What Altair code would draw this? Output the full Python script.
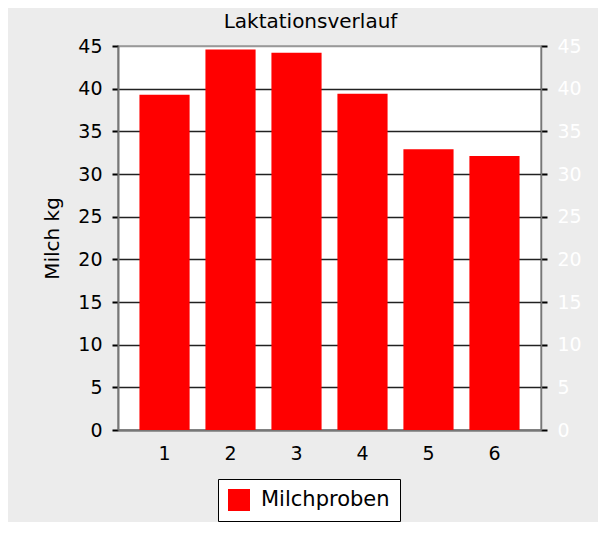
import altair as alt
import pandas as pd

categories = ["1", "2", "3", "4", "5", "6"]
values = [39.3, 44.6, 44.2, 39.4, 32.9, 32.1]
series_name = "Milchproben"
y_ticks = [0, 5, 10, 15, 20, 25, 30, 35, 40, 45]

df = pd.DataFrame({
    "Monat": categories,
    "Milch": values,
    "Serie": [series_name] * len(categories),
})

FONT = "DejaVu Sans"

x_enc = alt.X(
    "Monat:N", sort=categories, title=None,
    scale=alt.Scale(paddingInner=0.24, paddingOuter=0.325),
    axis=alt.Axis(labelAngle=0, ticks=False, labelFontSize=19, labelColor="black",
                  labelPadding=14, domainColor="#777777", domainWidth=2,
                  labelFont=FONT, grid=False),
)

y_scale = alt.Scale(domain=[0, 45], nice=False, zero=True)

bars = alt.Chart(df).mark_bar(color="red").encode(
    x=x_enc,
    y=alt.Y(
        "Milch:Q", scale=y_scale, title="Milch kg",
        axis=alt.Axis(
            orient="left", values=y_ticks, grid=True,
            gridColor={"condition": {"test": "datum.value == 45", "value": "#999999"}, "value": "#222222"},
            gridWidth=1.3,
            domainColor="#777777", domainWidth=2,
            tickColor="black", tickWidth=2, tickSize=6,
            labelFontSize=19, labelColor="black", labelFont=FONT, labelPadding=10,
            titleFontSize=20, titleFont=FONT, titleFontWeight="normal", titleColor="black",
            titlePadding=15,
        ),
    ),
    color=alt.Color(
        "Serie:N", scale=alt.Scale(range=["red"]),
        legend=alt.Legend(
            title=None, orient="none", legendX=100, legendY=433,
            strokeColor="black", fillColor="white", padding=10,
            symbolType="square", symbolSize=484, symbolStrokeWidth=0,
            labelFontSize=21, labelFont=FONT, labelColor="black", labelOffset=11,
        ),
    ),
)

right = alt.Chart(df).mark_bar(opacity=0).encode(
    x=x_enc,
    y=alt.Y(
        "Milch:Q", scale=y_scale, title=None,
        axis=alt.Axis(
            orient="right", values=y_ticks, grid=False,
            domainColor="#777777", domainWidth=1.5,
            tickColor="black", tickWidth=2, tickSize=6,
            labelFontSize=19, labelColor="white", labelFont=FONT, labelPadding=10,
        ),
    ),
)

chart = alt.layer(bars, right).resolve_axis(y="independent").properties(
    width=423, height=384,
    title=alt.TitleParams("Laktationsverlauf", fontSize=20, font=FONT, fontWeight="normal",
                          color="black", anchor="middle", dx=-19, offset=5),
    background="#ececec",
    autosize=alt.AutoSizeParams(type="none"),
    padding={"left": 110, "top": 38, "right": 57, "bottom": 92},
).configure_view(stroke="#999999", strokeWidth=1.5, fill="white")

chart.save("out.html", embed_options={"renderer": "svg", "actions": False})
